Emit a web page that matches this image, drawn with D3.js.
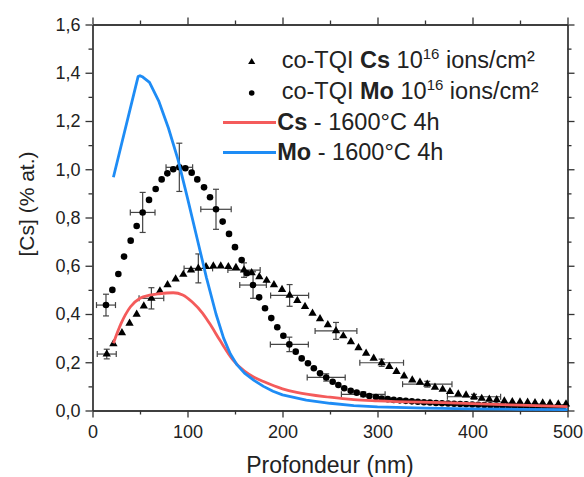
<!DOCTYPE html>
<html><head><meta charset="utf-8">
<script src="https://cdn.jsdelivr.net/npm/d3@7"></script>
<style>body{margin:0;background:#fff}svg{display:block}text{font-family:Arial,"Liberation Sans",sans-serif;fill:#222}</style>
</head><body><svg id="c" width="584" height="477"></svg>
<script>
// ---- data ----
const xTicks=[0,100,200,300,400,500];
const yTicks=[0,0.2,0.4,0.6,0.8,1.0,1.2,1.4,1.6];
const csImplX=[15,22,31,39,46.5,54,62,71,79,87.5,95.6,103.7,111.4,119.5,127.2,135,143,151,159.5,167.5,175.6,183.3,191,199.5,207.5,215.6,223.7,231.6,239.5,247.7,256.3,264,272,280,288,296,304.4,312.4,320,328,336.6,344.7,352.4,360.5,368.6,376.3,385,393.2,401.6,409.7,417.7,425.5,433.5,441.9,450,458,465.8,473.9,481.6,490.3,498.4];
const csImplY=[0.234,0.276,0.322,0.361,0.399,0.433,0.465,0.495,0.521,0.545,0.564,0.582,0.589,0.596,0.599,0.599,0.596,0.592,0.582,0.571,0.554,0.539,0.521,0.501,0.477,0.456,0.431,0.403,0.380,0.355,0.330,0.309,0.285,0.260,0.237,0.216,0.198,0.182,0.161,0.143,0.126,0.117,0.109,0.096,0.088,0.078,0.068,0.064,0.057,0.050,0.046,0.044,0.039,0.036,0.035,0.034,0.032,0.031,0.030,0.027,0.027];
const csErrIdx=[0,6,12,18,24,30,36,42,48];
const csErrX=[10,13,15,17,20,22,23,26,28];
const csErrY=[0.02,0.044,0.06,0.03,0.045,0.035,0.015,0.012,0.01];
const moImplX=[14.2,20.9,27.2,33.2,40.2,46.5,52.8,59.5,66.5,72.8,78.8,85,91.4,97.7,104.4,110.3,117.4,123.7,130,137,143.7,150,157,162.5,169,175.4,181.6,188.2,194.5,200.9,207.2,213.9,220.2,226.8,233,239.5,246,252.8,258.8,265,271.8,278.1,285,291.4,298.4,304.4,310.8,317.1,323.5,329.8,336.2,342.5,348.9,355.2,361.6,367.9,374.3,380.6,387,393.3,399.7,406,412.4,418.7,425.1,431.4,437.8,444.1,450.5,456.8,463.2,469.5,475.9,482.2,488.6,494.9];
const moImplY=[0.437,0.50,0.566,0.638,0.704,0.765,0.821,0.873,0.918,0.958,0.983,1.0,1.008,1.004,0.986,0.958,0.925,0.884,0.834,0.783,0.732,0.677,0.624,0.569,0.52,0.469,0.424,0.383,0.345,0.31,0.274,0.244,0.216,0.196,0.175,0.154,0.137,0.119,0.106,0.092,0.082,0.074,0.067,0.06,0.056,0.05,0.047,0.044,0.042,0.04,0.038,0.036,0.034,0.033,0.031,0.03,0.029,0.028,0.027,0.026,0.025,0.024,0.023,0.022,0.021,0.02,0.019,0.018,0.017,0.016,0.015,0.015,0.014,0.013,0.013,0.012];
const moErrIdx=[0,6,12,18,24,30,36,42];
const moErrX=[10,13,14,16,14,20,20,23];
const moErrY=[0.045,0.083,0.1,0.083,0.055,0.03,0.015,0.01];
const csAnnX=[22,30,40,50,60,70,85,95,105,116,125,134,148,160,170,180,200,215,250,275,300,376,450,500];
const csAnnY=[0.279,0.36,0.43,0.465,0.478,0.484,0.488,0.479,0.45,0.403,0.35,0.292,0.209,0.163,0.138,0.12,0.09,0.075,0.055,0.045,0.04,0.032,0.022,0.016];
const moAnnX=[22,48,50,53,60,70,80,90,100,110,120,130,138,145,152,160,170,180,190,200,225,250,275,300,350,400,450,500];
const moAnnY=[0.967,1.384,1.388,1.382,1.36,1.28,1.17,1.04,0.88,0.715,0.55,0.40,0.30,0.235,0.19,0.155,0.125,0.10,0.08,0.065,0.043,0.03,0.02,0.015,0.01,0.007,0.005,0.004];
const legendLabels=[["co-TQI ","Cs"," 10","16"," ions/cm²"],["co-TQI ","Mo"," 10","16"," ions/cm²"],["","Cs"," - 1600°C 4h"],["","Mo"," - 1600°C 4h"]];
const red="#f45b5b", blue="#1e8cf5", ink="#333";

// ---- chart ----
const svg=d3.select("#c");
const x=d3.scaleLinear([0,500],[92.5,567.5]);
const y=d3.scaleLinear([0,1.6],[410.5,24.5]);
const fmt=d=>d3.format(".1f")(d).replace(".",",");

function styleAxis(g){g.selectAll("path,line").attr("stroke",ink).attr("stroke-width",1.3);}
const xMinor=d3.range(50,500,100), yMinor=d3.range(0.1,1.6,0.2);
svg.append("g").attr("transform","translate(0,410.5)").call(d3.axisBottom(x).tickValues(xMinor).tickSize(4).tickSizeOuter(0).tickFormat("")).call(styleAxis);
svg.append("g").attr("transform","translate(0,24.5)").call(d3.axisTop(x).tickValues(xMinor).tickSize(4).tickSizeOuter(0).tickFormat("")).call(styleAxis);
svg.append("g").attr("transform","translate(92.5,0)").call(d3.axisLeft(y).tickValues(yMinor).tickSize(4).tickSizeOuter(0).tickFormat("")).call(styleAxis);
svg.append("g").attr("transform","translate(567.5,0)").call(d3.axisRight(y).tickValues(yMinor).tickSize(4).tickSizeOuter(0).tickFormat("")).call(styleAxis);
const gx=svg.append("g").attr("transform","translate(0,410.5)").call(d3.axisBottom(x).tickValues(xTicks).tickSize(7).tickSizeOuter(0).tickPadding(8).tickFormat(d3.format("d"))).call(styleAxis);
const gy=svg.append("g").attr("transform","translate(92.5,0)").call(d3.axisLeft(y).tickValues(yTicks).tickSize(7).tickSizeOuter(0).tickPadding(5).tickFormat(fmt)).call(styleAxis);
svg.append("g").attr("transform","translate(0,24.5)").call(d3.axisTop(x).tickValues(xTicks).tickSize(7).tickSizeOuter(0).tickFormat("")).call(styleAxis);
svg.append("g").attr("transform","translate(567.5,0)").call(d3.axisRight(y).tickValues(yTicks).tickSize(7).tickSizeOuter(0).tickFormat("")).call(styleAxis);
[gx,gy].forEach(g=>g.selectAll("text").attr("font-size",18).attr("fill","#222").attr("font-family","Arial,'Liberation Sans',sans-serif"));

svg.append("text").attr("x",330).attr("y",473).attr("text-anchor","middle").attr("font-size",23).text("Profondeur (nm)");
svg.append("text").attr("transform","translate(34,204) rotate(-90)").attr("text-anchor","middle").attr("font-size",21).text("[Cs] (% at.)");

function errBars(xs,ys,idx,ex,ey){
  const g=svg.append("g").attr("stroke","#444").attr("stroke-width",1.2).attr("fill","none");
  idx.forEach((i,k)=>{
    const cx=x(xs[i]),cy=y(ys[i]);
    const x0=x(xs[i]-ex[k]),x1=x(xs[i]+ex[k]),y0=y(ys[i]-ey[k]),y1=y(ys[i]+ey[k]);
    g.append("line").attr("x1",x0).attr("x2",x1).attr("y1",cy).attr("y2",cy);
    g.append("line").attr("x1",cx).attr("x2",cx).attr("y1",y0).attr("y2",y1);
    g.append("line").attr("x1",x0).attr("x2",x0).attr("y1",cy-3).attr("y2",cy+3);
    g.append("line").attr("x1",x1).attr("x2",x1).attr("y1",cy-3).attr("y2",cy+3);
    g.append("line").attr("x1",cx-3).attr("x2",cx+3).attr("y1",y0).attr("y2",y0);
    g.append("line").attr("x1",cx-3).attr("x2",cx+3).attr("y1",y1).attr("y2",y1);
  });
}
errBars(csImplX,csImplY,csErrIdx,csErrX,csErrY);
errBars(moImplX,moImplY,moErrIdx,moErrX,moErrY);

const tri=d3.symbol(d3.symbolTriangle,30);
svg.append("g").selectAll("path").data(csImplX).join("path").attr("d",tri)
  .attr("transform",(d,i)=>`translate(${x(d)},${y(csImplY[i])})`).attr("fill","#000");
svg.append("g").selectAll("circle").data(moImplX).join("circle")
  .attr("cx",d=>x(d)).attr("cy",(d,i)=>y(moImplY[i])).attr("r",3.3).attr("fill","#000");

svg.append("path").attr("d",d3.line().curve(d3.curveMonotoneX)(csAnnX.map((d,i)=>[x(d),y(csAnnY[i])]))).attr("fill","none").attr("stroke",red).attr("stroke-width",2.8);
svg.append("path").attr("d",d3.line()(moAnnX.map((d,i)=>[x(d),y(moAnnY[i])]))).attr("fill","none").attr("stroke",blue).attr("stroke-width",2.8).attr("stroke-linejoin","round");

const lg=svg.append("g");
const rowsY=[67.5,98.5,130,160];
lg.append("path").attr("d",d3.symbol(d3.symbolTriangle,22)()).attr("transform",`translate(251.7,${rowsY[0]-5.5})`).attr("fill","#000");
lg.append("circle").attr("cx",251.7).attr("cy",rowsY[1]-5.5).attr("r",2.8).attr("fill","#000");
lg.append("line").attr("x1",223).attr("x2",276).attr("y1",rowsY[2]-7.5).attr("y2",rowsY[2]-7.5).attr("stroke",red).attr("stroke-width",2.8);
lg.append("line").attr("x1",223).attr("x2",276).attr("y1",rowsY[3]-7.5).attr("y2",rowsY[3]-7.5).attr("stroke",blue).attr("stroke-width",2.8);
legendLabels.forEach((parts,r)=>{
  const t=lg.append("text").attr("x",r<2?281.7:277.3).attr("y",rowsY[r]).attr("font-size",23.5);
  if(parts[0]) t.append("tspan").text(parts[0]);
  t.append("tspan").attr("font-weight","bold").text(parts[1]);
  t.append("tspan").text(parts[2]);
  if(parts.length>3){
    t.append("tspan").attr("font-size",15).attr("dy",-9).text(parts[3]);
    t.append("tspan").attr("dy",9).text(parts[4]);
  }
});
</script></body></html>
